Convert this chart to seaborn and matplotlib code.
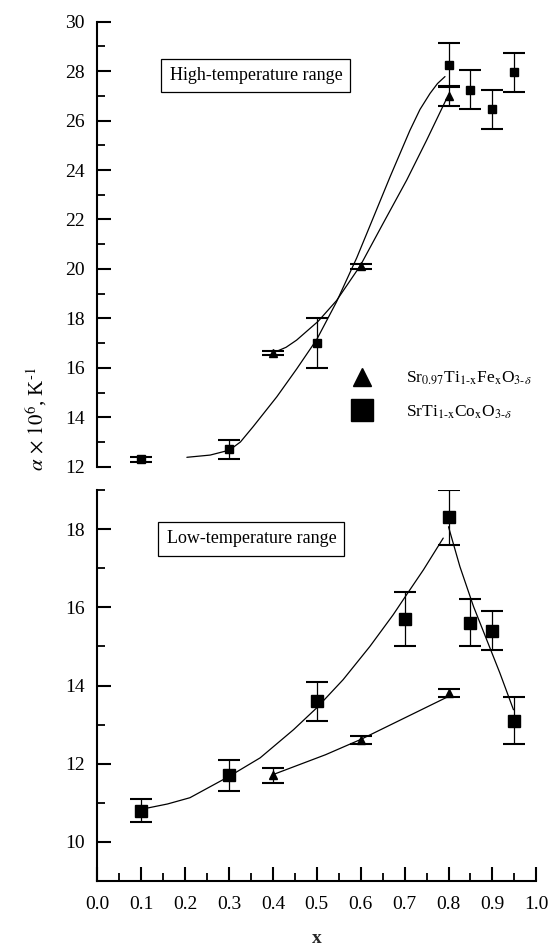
import matplotlib
matplotlib.use("Agg")
import matplotlib.pyplot as plt
from matplotlib.lines import Line2D
from matplotlib.ticker import MultipleLocator, FormatStrFormatter
import seaborn as sns

# ---- SrTi(1-x)Co(x)O(3-d): thermal expansion coefficient, 10^-6 K^-1 ----
x_co_high = [0.1, 0.3, 0.5, 0.8, 0.85, 0.9, 0.95]
alpha_co_high = [12.3, 12.7, 17.0, 28.25, 27.25, 26.45, 27.95]
err_co_high = [0.1, 0.4, 1.0, 0.9, 0.8, 0.8, 0.8]

x_co_low = [0.1, 0.3, 0.5, 0.7, 0.8, 0.85, 0.9, 0.95]
alpha_co_low = [10.8, 11.7, 13.6, 15.7, 18.3, 15.6, 15.4, 13.1]
err_co_low = [0.3, 0.4, 0.5, 0.7, 0.7, 0.6, 0.5, 0.6]

# ---- Sr0.97Ti(1-x)Fe(x)O(3-d) ----
x_fe = [0.4, 0.6, 0.8]
alpha_fe_high = [16.6, 20.1, 27.0]
err_fe_high = [0.1, 0.1, 0.4]
alpha_fe_low = [11.7, 12.6, 13.8]
err_fe_low = [0.2, 0.1, 0.1]

# ---- guide-to-the-eye curves ----
fit_co_high_x = [0.204, 0.257, 0.301, 0.326, 0.355, 0.409, 0.454, 0.500, 0.545,
                 0.591, 0.614, 0.667, 0.712, 0.735, 0.758, 0.775, 0.792]
fit_co_high_y = [12.38, 12.47, 12.67, 13.00, 13.62, 14.83, 15.95, 17.15, 18.67,
                 20.45, 21.44, 23.73, 25.60, 26.45, 27.10, 27.50, 27.78]

fit_fe_high_x = [0.401, 0.430, 0.454, 0.503, 0.545, 0.599, 0.651, 0.705, 0.750, 0.796]
fit_fe_high_y = [16.61, 16.83, 17.12, 17.88, 18.72, 20.13, 21.84, 23.60, 25.20, 26.90]

fit_co_low_rise_x = [0.116, 0.160, 0.211, 0.301, 0.371, 0.447, 0.500, 0.560, 0.621,
                     0.674, 0.705, 0.743, 0.788]
fit_co_low_rise_y = [10.87, 10.97, 11.13, 11.68, 12.15, 12.87, 13.43, 14.15, 15.00,
                     15.81, 16.33, 16.96, 17.77]
fit_co_low_fall_x = [0.800, 0.826, 0.857, 0.887, 0.917, 0.948]
fit_co_low_fall_y = [18.06, 17.04, 16.02, 15.17, 14.32, 13.38]

fit_fe_low_x = [0.40, 0.44, 0.52, 0.60, 0.70, 0.80]
fit_fe_low_y = [11.72, 11.89, 12.23, 12.62, 13.17, 13.72]

label_fe = r"Sr$_{0.97}$Ti$_{1\text{-}\mathrm{x}}$Fe$_{\mathrm{x}}$O$_{3\text{-}\delta}$"
label_co = r"SrTi$_{1\text{-}\mathrm{x}}$Co$_{\mathrm{x}}$O$_{3\text{-}\delta}$"

sns.set_theme(style="ticks")
plt.rcParams.update({
    "font.family": ["Liberation Serif", "DejaVu Serif"],
    "mathtext.fontset": "stix",
    "xtick.direction": "in",
    "ytick.direction": "in",
    "axes.linewidth": 1.5,
    "axes.edgecolor": "black",
    "text.color": "black",
    "xtick.color": "black",
    "ytick.color": "black",
})

W, H = 550, 952
fig = plt.figure(figsize=(5.5, 9.52), dpi=100)
left, width = 97.3 / W, 439 / W
ax_hi = fig.add_axes([left, 1 - 466.7 / H, width, 445 / H])
ax_lo = fig.add_axes([left, 1 - 881 / H, width, 391 / H])


def curve(ax, xs, ys):
    sns.lineplot(x=xs, y=ys, ax=ax, color="black", linewidth=0.9,
                 sort=False, estimator=None, zorder=2)


def points(ax, xs, ys, err, marker, ms):
    ax.errorbar(xs, ys, yerr=err, fmt=marker, ms=ms, color="black",
                mec="black", ecolor="black", elinewidth=0.9, capsize=8,
                capthick=1.5, zorder=3)


# high-temperature panel
curve(ax_hi, fit_co_high_x, fit_co_high_y)
curve(ax_hi, fit_fe_high_x, fit_fe_high_y)
points(ax_hi, x_co_high, alpha_co_high, err_co_high, "s", 5.6)
points(ax_hi, x_fe, alpha_fe_high, err_fe_high, "^", 6.0)

# low-temperature panel
curve(ax_lo, fit_co_low_rise_x, fit_co_low_rise_y)
curve(ax_lo, fit_co_low_fall_x, fit_co_low_fall_y)
curve(ax_lo, fit_fe_low_x, fit_fe_low_y)
points(ax_lo, x_co_low, alpha_co_low, err_co_low, "s", 8.4)
points(ax_lo, x_fe, alpha_fe_low, err_fe_low, "^", 6.3)

for ax in (ax_hi, ax_lo):
    ax.set_xlim(0, 1)
    ax.xaxis.set_major_locator(MultipleLocator(0.1))
    ax.xaxis.set_minor_locator(MultipleLocator(0.05))
    ax.xaxis.set_major_formatter(FormatStrFormatter("%.1f"))
    ax.yaxis.set_major_locator(MultipleLocator(2))
    ax.yaxis.set_minor_locator(MultipleLocator(1))
    ax.tick_params(which="major", length=10, width=1.5, labelsize=14, pad=9)
    ax.tick_params(which="minor", length=5.5, width=1.3)
    ax.tick_params(axis="x", pad=11)
    ax.spines["top"].set_visible(False)
    ax.spines["right"].set_visible(False)
    ax.set_xlabel("")
    ax.set_ylabel("")

ax_hi.set_ylim(12, 30)
ax_hi.spines["bottom"].set_visible(False)
ax_hi.tick_params(axis="x", which="both", bottom=False, labelbottom=False)
ax_lo.set_ylim(9, 19)

box = dict(boxstyle="square,pad=0.45", fc="white", ec="black", lw=0.9)
ax_hi.text(0.3615, 0.879, "High-temperature range", transform=ax_hi.transAxes,
           ha="center", va="center", fontsize=13, bbox=box)
ax_lo.text(0.351, 0.875, "Low-temperature range", transform=ax_lo.transAxes,
           ha="center", va="center", fontsize=13, bbox=box)

handles = [
    Line2D([], [], ls="none", marker="^", ms=13, color="black"),
    Line2D([], [], ls="none", marker="s", ms=15.5, color="black"),
]
ax_hi.legend(handles, [label_fe, label_co], loc="center left",
             bbox_to_anchor=(345 / W, 1 - 395.5 / H),
             bbox_transform=fig.transFigure, frameon=False, fontsize=12.5,
             handlelength=2.0, handletextpad=1.5, labelspacing=0.9,
             borderpad=0, borderaxespad=0)

ax_lo.set_xlabel("x", fontsize=14, fontweight="bold", labelpad=12)
fig.text(36 / W, 1 - 419 / H, r"$\alpha\,\times\,10^{6}$, K$^{\text{-}1}$",
         rotation=90, ha="center", va="center", fontsize=15)

fig.savefig("out.png", dpi=100)
